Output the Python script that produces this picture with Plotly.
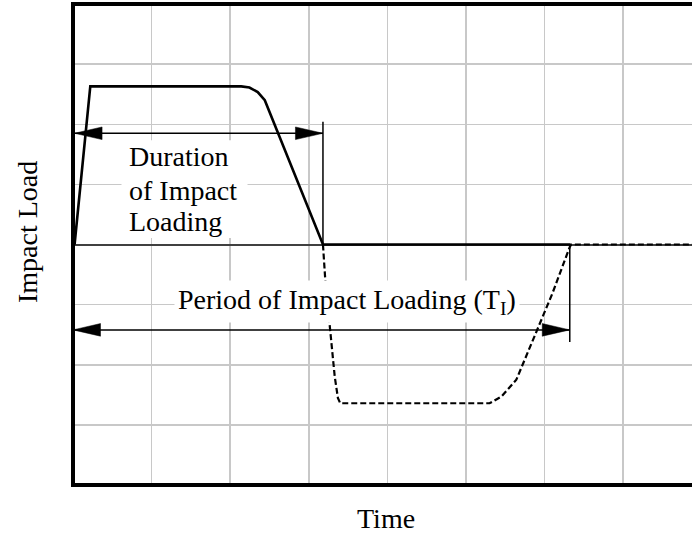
import plotly.graph_objects as go

# ---- data (grid units: x = time, y = impact load) ----
load_time = [0.02, 0.22, 2.14, 2.245, 2.35, 2.44, 3.18, 6.33]
load_value = [0.0, 2.63, 2.63, 2.61, 2.535, 2.40, 0.0, 0.0]

rebound_time = [3.18, 3.21, 3.27, 3.33, 3.37, 3.40, 5.30, 5.45, 5.64, 5.85, 6.10, 6.32, 6.34, 7.875]
rebound_value = [0.0, -0.60, -1.40, -2.20, -2.55, -2.64, -2.64, -2.53, -2.25, -1.59, -0.81, -0.04, 0.0, 0.0]

duration_arrow_x = [0.02, 3.18]
duration_arrow_y = 1.85
duration_marker_y = [0.0, 2.04]

period_arrow_x = [0.0, 6.32]
period_arrow_y = -1.42
period_marker_y = [0.0, -1.62]

duration_lines = ["Duration", "of Impact", "Loading"]
duration_line_y = [1.471, 0.898, 0.382]

x_range = [0, 7.875]
y_range = [-4, 4]

FONT = "Liberation Serif"
FS = 28

fig = go.Figure()
fig.add_trace(go.Scatter(x=load_time, y=load_value, mode="lines",
                         line=dict(color="black", width=2.6), hoverinfo="skip"))
fig.add_trace(go.Scatter(x=rebound_time, y=rebound_value, mode="lines",
                         line=dict(color="black", width=2.2, dash="6px,3px"), hoverinfo="skip"))

shapes = []
# arrow shafts and end markers
for xs, yv in [(duration_arrow_x, duration_arrow_y), (period_arrow_x, period_arrow_y)]:
    shapes.append(dict(type="line", x0=xs[0], x1=xs[1], y0=yv, y1=yv,
                       line=dict(color="black", width=1.5)))
shapes.append(dict(type="line", x0=duration_arrow_x[1], x1=duration_arrow_x[1],
                   y0=duration_marker_y[0], y1=duration_marker_y[1], line=dict(color="black", width=1.5)))
shapes.append(dict(type="line", x0=period_arrow_x[1], x1=period_arrow_x[1],
                   y0=period_marker_y[0], y1=period_marker_y[1], line=dict(color="black", width=1.5)))

# arrowheads (filled narrow triangles)
head_len = 0.35
head_half = 0.105
for xs, yv in [(duration_arrow_x, duration_arrow_y), (period_arrow_x, period_arrow_y)]:
    for tip, direction in [(xs[0], 1), (xs[1], -1)]:
        base = tip + direction * head_len
        path = f"M {tip},{yv} L {base},{yv + head_half} L {base},{yv - head_half} Z"
        shapes.append(dict(type="path", path=path, fillcolor="black",
                           line=dict(color="black", width=0.5)))

# white background behind the "Duration" label block
shapes.append(dict(type="rect", x0=0.617, x1=2.22, y0=0.108, y1=1.735,
                   fillcolor="white", line=dict(width=0), layer="above"))

# frame (left, top, bottom)
frame = dict(color="black", width=4)
shapes.append(dict(type="line", xref="paper", yref="paper", x0=0, x1=0, y0=-0.004, y1=1.004, line=frame))
shapes.append(dict(type="line", xref="paper", yref="paper", x0=0, x1=1, y0=1, y1=1, line=frame))
shapes.append(dict(type="line", xref="paper", yref="paper", x0=0, x1=1, y0=0, y1=0, line=frame))

txt = dict(family=FONT, size=FS, color="black")
annotations = [
    dict(x=0.693, y=yy, xref="x", yref="y", xanchor="left", yanchor="middle",
         text=t, showarrow=False, font=txt)
    for t, yy in zip(duration_lines, duration_line_y)
]
annotations += [
    dict(x=3.48, y=-0.94, xref="x", yref="y", xanchor="center", yanchor="middle",
         text="Period of Impact Loading (T<sub>I</sub>)", showarrow=False,
         bgcolor="white", borderpad=3, font=txt),
    dict(x=-73 / 619 + 27 / 619, y=(485 - 232) / 481, xref="paper", yref="paper",
         xanchor="center", yanchor="middle", textangle=-90, text="Impact Load",
         showarrow=False, font=txt),
    dict(x=(386 - 73) / 619, y=-(518 - 485) / 481, xref="paper", yref="paper",
         xanchor="center", yanchor="middle", text="Time",
         showarrow=False, font=txt),
]

fig.update_layout(
    width=692, height=535,
    margin=dict(l=73, r=0, t=4, b=50),
    paper_bgcolor="white", plot_bgcolor="white",
    showlegend=False,
    font=dict(family=FONT, size=FS, color="black"),
    shapes=shapes, annotations=annotations,
    xaxis=dict(range=x_range, dtick=1, tick0=0, showgrid=True, gridcolor="#c8c8c8", gridwidth=1.5,
               showticklabels=False, ticks="", zeroline=False, showline=False, fixedrange=True),
    yaxis=dict(range=y_range, dtick=1, tick0=0, showgrid=True, gridcolor="#c8c8c8", gridwidth=1.5,
               showticklabels=False, ticks="", zeroline=True, zerolinecolor="#404040",
               zerolinewidth=2, showline=False, fixedrange=True),
)

fig.write_html("out.html", config={"staticPlot": True},
               post_script="document.body.style.margin='0';document.body.style.padding='0';")
